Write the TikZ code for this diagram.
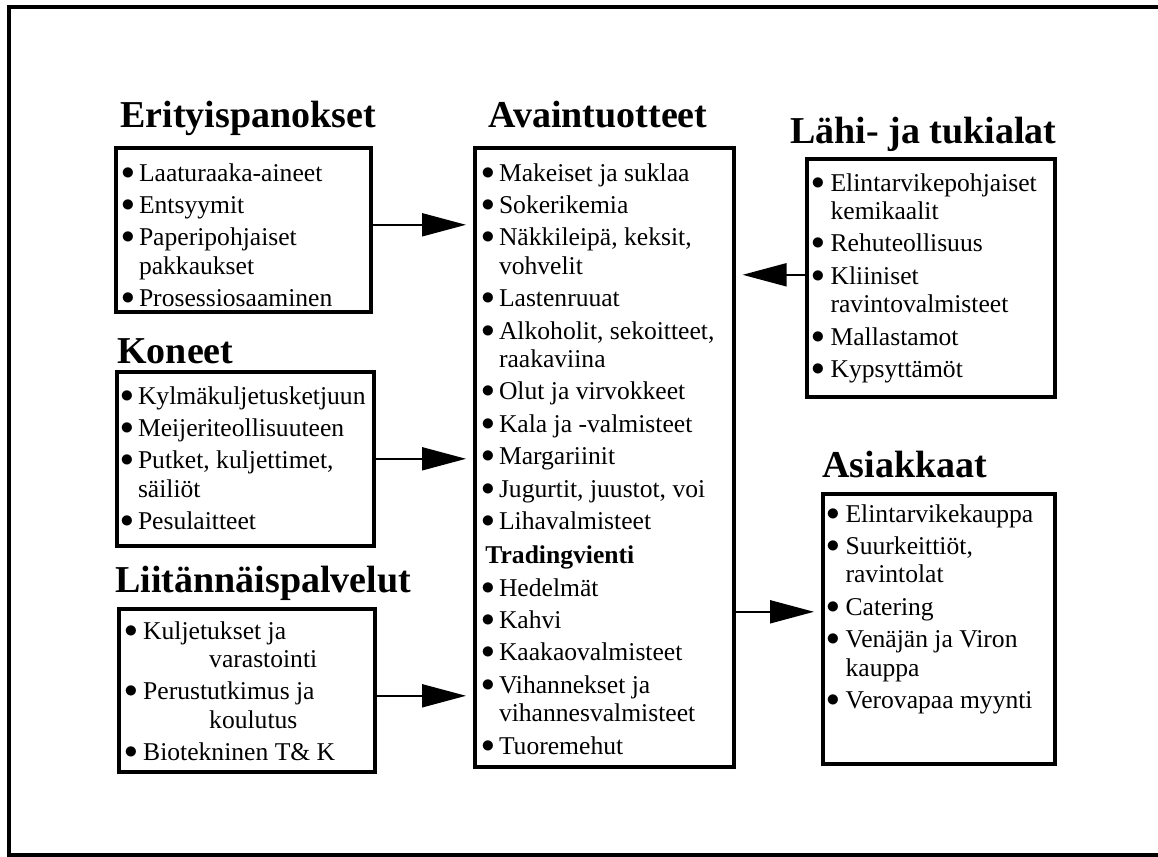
\documentclass[tikz,border=0pt]{standalone}
\usepackage{fontspec}
\setmainfont{Liberation Serif}
\usetikzlibrary{arrows.meta}
\newcommand{\itembul}{\raisebox{1pt}{\scalebox{1.1}{$\bullet$}}}
\tikzset
{
	my box/.style={draw,line width=1.8pt,inner sep=0pt,anchor=north west},
	my head/.style={anchor=base west,inner sep=0pt,font=\fontsize{19}{22}\selectfont\bfseries},
	my list/.style={anchor=base west,inner sep=0pt,font=\fontsize{12.8}{14.2}\selectfont},
	my arrow/.style={line width=1pt,-{Triangle[length=22pt,width=11.5pt]},shorten >=3.5pt}
}

\begin{document}
\begin{tikzpicture}[x=0.5pt,y=-0.5pt]
		\useasboundingbox (0,0) rectangle (1158,857);
		% frame
		\draw[line width=2pt] (1170,7) -- (9,7) -- (9,855) -- (1170,855);
		% boxes
		\node[my box,minimum width=127.5pt,minimum height=82pt] (erit) at (114,146) {};
		\node[my box,minimum width=128.5pt,minimum height=87pt] (kone) at (115,370) {};
		\node[my box,minimum width=128pt,minimum height=81.5pt] (liit) at (117,607) {};
		\node[my box,minimum width=129.5pt,minimum height=309.5pt] (avain) at (473,146) {};
		\node[my box,minimum width=124pt,minimum height=119pt] (lahi) at (805,157) {};
		\node[my box,minimum width=116pt,minimum height=135pt] (asiak) at (821,492) {};
		% headings
		\node[my head] (erit head) at (120,127) {Erityispanokset};
		\node[my head] (kone head) at (117,363) {Koneet};
		\node[my head] (liit head) at (115,592) {Liitännäispalvelut};
		\node[my head,anchor=base] (avain head) at (598,127) {Avaintuotteet};
		\node[my head] (lahi head) at (790,143) {Lähi- ja tukialat};
		\node[my head] (asiak head) at (822,477) {Asiakkaat};
		% lists
		\node[my list] (erit list) at (121,181) {\begin{tabular}[t]{@{}l@{\hspace{2.2pt}}l@{}}
			\itembul & Laaturaaka-aineet\\[2pt]
			\itembul & Entsyymit\\[2pt]
			\itembul & Paperipohjaiset\\
			& pakkaukset\\[2pt]
			\itembul & Prosessiosaaminen
		\end{tabular}};
		\node[my list] (kone list) at (120,404) {\begin{tabular}[t]{@{}l@{\hspace{2.2pt}}l@{}}
			\itembul & Kylmäkuljetusketjuun\\[2pt]
			\itembul & Meijeriteollisuuteen\\[2pt]
			\itembul & Putket, kuljettimet,\\
			& säiliöt\\[2pt]
			\itembul & Pesulaitteet
		\end{tabular}};
		\node[my list] (liit list) at (124,639) {\begin{tabular}[t]{@{}l@{\hspace{2.8pt}}l@{}}
			\itembul & Kuljetukset ja\\
			& \hspace*{33pt}varastointi\\[2pt]
			\itembul & Perustutkimus ja\\
			& \hspace*{33pt}koulutus\\[2pt]
			\itembul & Biotekninen T\& K
		\end{tabular}};
		\node[my list] (avain list) at (481,181) {\begin{tabular}[t]{@{}l@{\hspace{2.2pt}}l@{}}
			\itembul & Makeiset ja suklaa\\[2pt]
			\itembul & Sokerikemia\\[2pt]
			\itembul & Näkkileipä, keksit,\\
			& vohvelit\\[2pt]
			\itembul & Lastenruuat\\[2pt]
			\itembul & Alkoholit, sekoitteet,\\
			& raakaviina\\[2pt]
			\itembul & Olut ja virvokkeet\\[2pt]
			\itembul & Kala ja -valmisteet\\[2pt]
			\itembul & Margariinit\\[2pt]
			\itembul & Jugurtit, juustot, voi\\[2pt]
			\itembul & Lihavalmisteet\\[3pt]
			\multicolumn{2}{@{\hspace{2pt}}l@{}}{\textbf{Tradingvienti}}\\[2pt]
			\itembul & Hedelmät\\[2pt]
			\itembul & Kahvi\\[2pt]
			\itembul & Kaakaovalmisteet\\[2pt]
			\itembul & Vihannekset ja\\
			& vihannesvalmisteet\\[2pt]
			\itembul & Tuoremehut
		\end{tabular}};
		\node[my list] (lahi list) at (811,191) {\begin{tabular}[t]{@{}l@{\hspace{3pt}}l@{}}
			\itembul & Elintarvikepohjaiset\\
			& kemikaalit\\[2pt]
			\itembul & Rehuteollisuus\\[2pt]
			\itembul & Kliiniset\\
			& ravintovalmisteet\\[2pt]
			\itembul & Mallastamot\\[2pt]
			\itembul & Kypsyttämöt
		\end{tabular}};
		\node[my list] (asiak list) at (826,522) {\begin{tabular}[t]{@{}l@{\hspace{3pt}}l@{}}
			\itembul & Elintarvikekauppa\\[2pt]
			\itembul & Suurkeittiöt,\\
			& ravintolat\\[2pt]
			\itembul & Catering\\[2pt]
			\itembul & Venäjän ja Viron\\
			& kauppa\\[2pt]
			\itembul & Verovapaa myynti
		\end{tabular}};
		% arrows
		\draw[my arrow] ([yshift=2.5pt]erit.east) coordinate (e1) -- (e1 -| avain.west);
		\draw[my arrow] (kone.east) -- (kone.east -| avain.west);
		\draw[my arrow] ([yshift=-2.75pt]liit.east) coordinate (e3) -- (e3 -| avain.west);
		\draw[my arrow] ([yshift=1.5pt]lahi.west) coordinate (e4) -- (e4 -| avain.east);
		\draw[my arrow] ([yshift=8.5pt]asiak.west -| avain.east) coordinate (e5) -- (e5 -| asiak.west);
	\end{tikzpicture}
\end{document}
